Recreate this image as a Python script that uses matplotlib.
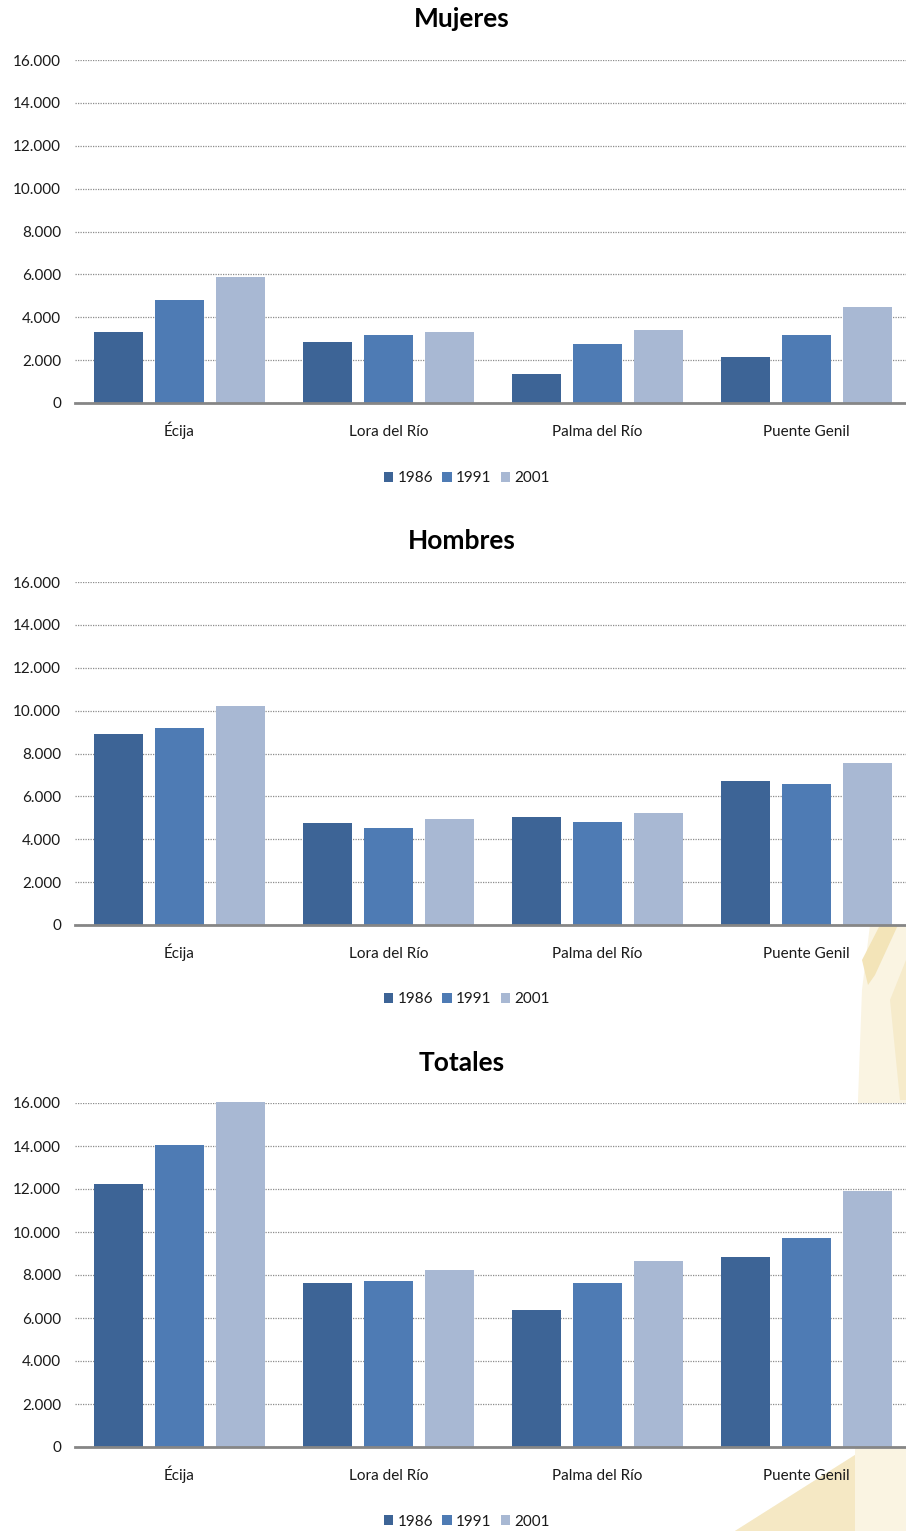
import matplotlib
matplotlib.use("Agg")
import matplotlib.pyplot as plt
from matplotlib.patches import Polygon, Patch
import numpy as np

plt.rcParams['font.family'] = ['Lato', 'DejaVu Sans']

categories = ["Écija", "Lora del Río", "Palma del Río", "Puente Genil"]
years = ["1986", "1991", "2001"]
colors = ["#3D6496", "#4E7BB4", "#A8B8D3"]

mujeres_1986 = [3310, 2830, 1355, 2135]
mujeres_1991 = [4820, 3195, 2775, 3195]
mujeres_2001 = [5870, 3315, 3395, 4455]

hombres_1986 = [8900, 4745, 5045, 6740]
hombres_1991 = [9200, 4545, 4825, 6600]
hombres_2001 = [10195, 4965, 5245, 7580]

totales_1986 = [12215, 7620, 6350, 8815]
totales_1991 = [14030, 7700, 7620, 9730]
totales_2001 = [16030, 8245, 8630, 11920]

yticks = [0, 2000, 4000, 6000, 8000, 10000, 12000, 14000, 16000]
ytick_labels = ["0", "2.000", "4.000", "6.000", "8.000", "10.000", "12.000", "14.000", "16.000"]

panels = [
    ("Mujeres", [mujeres_1986, mujeres_1991, mujeres_2001]),
    ("Hombres", [hombres_1986, hombres_1991, hombres_2001]),
    ("Totales", [totales_1986, totales_1991, totales_2001]),
]

W, H = 906, 1531
fig = plt.figure(figsize=(W / 100, H / 100), dpi=100)
fig.patch.set_facecolor("white")

def fx(px):
    return px / W

def fy(py):
    return 1 - py / H

# decorative watermark (pale shapes at right, behind the plot areas)
bg = fig.add_axes([0, 0, 1, 1], zorder=0)
bg.set_xlim(0, W)
bg.set_ylim(H, 0)
bg.axis("off")
bg.add_patch(Polygon([(870, 925), (906, 925), (906, 1531), (735, 1531),
                      (855, 1455), (858, 1100), (862, 990)],
                     closed=True, facecolor="#FAF4E2", edgecolor="none"))
bg.add_patch(Polygon([(880, 925), (898, 925), (875, 975), (868, 985), (862, 960)],
                     closed=True, facecolor="#F3E4B8", edgecolor="none"))
bg.add_patch(Polygon([(735, 1531), (855, 1455), (855, 1531)],
                     closed=True, facecolor="#F5E8C4", edgecolor="none"))
bg.add_patch(Polygon([(890, 1000), (906, 960), (906, 1100), (900, 1100)],
                     closed=True, facecolor="#F6EBCB", edgecolor="none"))

layout = [  # (title_y, plot_top, plot_bottom, legend_y)
    (19, 60, 403, 477),
    (541, 582, 925, 998),
    (1063, 1103, 1447, 1520),
]

x = np.arange(len(categories))
offsets = [-0.292, 0.0, 0.292]
bw = 0.238

for (title, series), (ty, top, bot, ly) in zip(panels, layout):
    left_px, right_px = 75, 911
    ax = fig.add_axes([fx(left_px), fy(bot), (right_px - left_px) / W, (bot - top) / H], zorder=1)
    ax.set_facecolor("white")
    handles = []
    for s, (vals, c, yr) in enumerate(zip(series, colors, years)):
        ax.bar(x + offsets[s], vals, width=bw, color=c, edgecolor="none",
               zorder=3, clip_on=False, label=yr)
        handles.append(Patch(facecolor=c, edgecolor="none", label=yr))
    ax.set_xlim(-0.5, 3.5)
    ax.set_ylim(0, 16000)
    ax.set_yticks(yticks)
    ax.set_yticklabels(ytick_labels)
    ax.set_xticks(x)
    ax.set_xticklabels(categories)
    for lbl in ax.get_xticklabels():
        lbl.set_verticalalignment("baseline")
    ax.grid(axis="y", color="#8C8C8C", linestyle=(0, (1, 1)), linewidth=0.9, zorder=0)
    ax.set_axisbelow(True)
    for sp in ["left", "right", "top"]:
        ax.spines[sp].set_visible(False)
    ax.spines["bottom"].set_color("#868686")
    ax.spines["bottom"].set_linewidth(2.0)
    ax.spines["bottom"].set_zorder(4)
    ax.tick_params(axis="y", length=0, pad=10, labelsize=11, labelcolor="#1A1A1A")
    ax.tick_params(axis="x", length=0, pad=24, labelsize=11, labelcolor="#1A1A1A")
    fig.text(fx(462), fy(ty), title, ha="center", va="center",
             fontsize=19, fontweight="bold", color="black")
    fig.legend(handles=handles, loc="center", bbox_to_anchor=(fx(467), fy(ly + 1.5)),
               ncol=3, frameon=False, fontsize=11, handlelength=0.6, handleheight=0.6,
               handletextpad=0.3, columnspacing=0.6, borderpad=0, labelcolor="#1A1A1A")

fig.savefig("out.png", dpi=100, facecolor="white")
